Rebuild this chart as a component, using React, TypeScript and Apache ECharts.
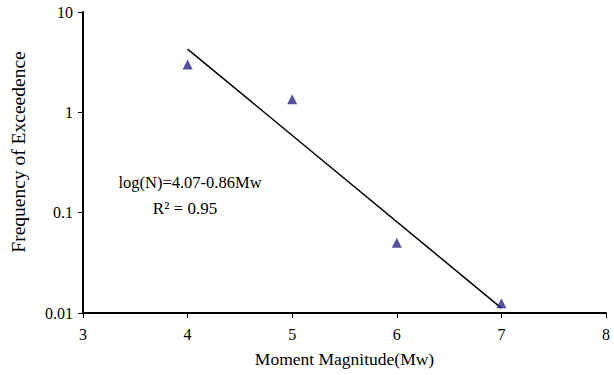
import React, { useEffect, useRef } from "react";
import * as echarts from "echarts";

const magnitudes = [4, 5, 6, 7];
const frequencies = [3.0, 1.35, 0.05, 0.0125];
const trendX = [4, 7];
const trendY = [4.27, 0.0112];
const yTicks = [0.01, 0.1, 1, 10];
const equationText = "log(N)=4.07-0.86Mw";
const r2Text = "R² = 0.95";
const xTitle = "Moment Magnitude(Mw)";
const yTitle = "Frequency of Exceedence";

const FONT = "'Liberation Serif', 'Times New Roman', serif";

export default function App() {
  const ref = useRef<HTMLDivElement>(null);
  useEffect(() => {
    if (!ref.current) return;
    const chart = echarts.init(ref.current, null, { renderer: "svg" });
    chart.setOption({
      animation: false,
      backgroundColor: "#ffffff",
      grid: { left: 83, top: 12, right: 8, bottom: 62 },
      xAxis: {
        type: "value",
        min: 3,
        max: 8,
        interval: 1,
        name: xTitle,
        nameLocation: "middle",
        nameGap: 37,
        nameTextStyle: { fontFamily: FONT, fontSize: 17.5, color: "#000" },
        axisLine: { lineStyle: { color: "#000", width: 2 } },
        axisTick: { show: true, length: 5, lineStyle: { color: "#000", width: 1 } },
        axisLabel: { fontFamily: FONT, fontSize: 16, color: "#000", margin: 13 },
        splitLine: { show: false },
      },
      yAxis: {
        type: "log",
        logBase: 10,
        min: 0.01,
        max: 10,
        axisLine: { show: true, lineStyle: { color: "#000", width: 2 } },
        axisTick: { show: true, length: 5, lineStyle: { color: "#000", width: 1 } },
        minorTick: { show: false },
        axisLabel: {
          fontFamily: FONT,
          fontSize: 16,
          color: "#000",
          margin: 10,
          formatter: (v: number) => {
            const found = yTicks.find((t) => Math.abs(Math.log10(t) - Math.log10(v)) < 1e-6);
            return found !== undefined ? String(found) : "";
          },
        },
        splitLine: { show: false },
      },
      graphic: [
        {
          type: "text",
          x: 18,
          y: 152,
          rotation: Math.PI / 2,
          style: {
            text: yTitle,
            fontFamily: FONT,
            fontSize: 19.5,
            fill: "#000",
            align: "center",
            verticalAlign: "middle",
          },
        },
        {
          type: "text",
          x: 190,
          y: 182,
          style: {
            text: equationText,
            fontFamily: FONT,
            fontSize: 16.5,
            fill: "#000",
            align: "center",
            verticalAlign: "middle",
          },
        },
        {
          type: "text",
          x: 185,
          y: 208,
          style: {
            text: r2Text,
            fontFamily: FONT,
            fontSize: 17,
            fill: "#000",
            align: "center",
            verticalAlign: "middle",
          },
        },
      ],
      series: [
        {
          type: "line",
          data: trendX.map((x, i) => [x, trendY[i]]),
          symbol: "none",
          lineStyle: { color: "#000", width: 1.5 },
          z: 2,
        },
        {
          type: "scatter",
          data: magnitudes.map((x, i) => [x, frequencies[i]]),
          symbol: "triangle",
          symbolSize: 10,
          itemStyle: { color: "#2b2685" },
          z: 3,
        },
      ],
    });
    return () => chart.dispose();
  }, []);
  return (
    <div
      ref={ref}
      style={{ position: "absolute", left: 0, top: 0, width: 614, height: 375 }}
    />
  );
}
